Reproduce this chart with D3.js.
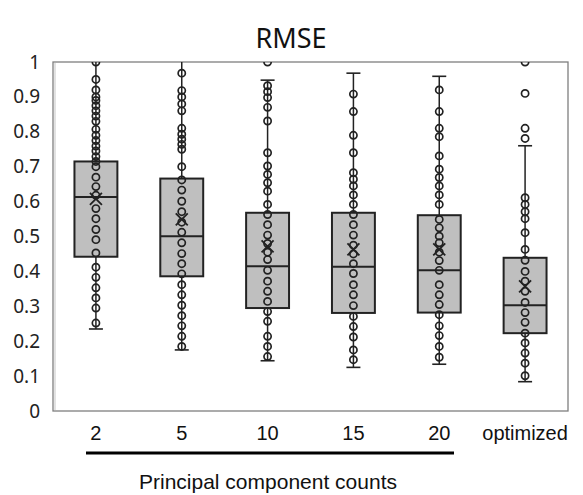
<!DOCTYPE html>
<html><head><meta charset="utf-8">
<script src="https://cdn.jsdelivr.net/npm/d3@7"></script>
<style>body{margin:0;background:#fff}svg{display:block}</style>
</head><body><svg id="c" width="583" height="495"></svg>
<script>
const categories = ["2", "5", "10", "15", "20", "optimized"];
const yTicks = [0, 0.1, 0.2, 0.3, 0.4, 0.5, 0.6, 0.7, 0.8, 0.9, 1];
const q1 = [0.442, 0.386, 0.295, 0.281, 0.282, 0.223];
const median = [0.613, 0.501, 0.415, 0.413, 0.403, 0.303];
const q3 = [0.715, 0.666, 0.568, 0.568, 0.561, 0.439];
const mean = [0.608, 0.549, 0.472, 0.463, 0.463, 0.357];
const whiskerLow = [0.235, 0.175, 0.144, 0.125, 0.134, 0.084];
const whiskerHigh = [1.03, 1.03, 0.948, 0.968, 0.959, 0.760];
const points2 = [1.0, 0.95, 0.92, 0.90, 0.89, 0.875, 0.86, 0.845, 0.83, 0.807, 0.79, 0.775, 0.759, 0.745, 0.729, 0.715, 0.70, 0.67, 0.643, 0.618, 0.58, 0.551, 0.52, 0.491, 0.453, 0.412, 0.383, 0.353, 0.324, 0.295, 0.252];
const points5 = [0.968, 0.918, 0.90, 0.88, 0.86, 0.81, 0.793, 0.779, 0.764, 0.75, 0.70, 0.662, 0.633, 0.601, 0.571, 0.541, 0.512, 0.482, 0.451, 0.422, 0.393, 0.362, 0.333, 0.303, 0.273, 0.244, 0.214, 0.185];
const points10 = [1.0, 0.932, 0.915, 0.898, 0.87, 0.831, 0.74, 0.702, 0.678, 0.654, 0.63, 0.592, 0.563, 0.534, 0.504, 0.48, 0.455, 0.434, 0.403, 0.372, 0.343, 0.314, 0.285, 0.257, 0.214, 0.185, 0.156];
const points15 = [0.908, 0.858, 0.79, 0.74, 0.683, 0.664, 0.645, 0.619, 0.592, 0.563, 0.534, 0.504, 0.475, 0.45, 0.422, 0.394, 0.362, 0.333, 0.302, 0.271, 0.242, 0.212, 0.175, 0.147];
const points20 = [0.92, 0.858, 0.81, 0.786, 0.731, 0.693, 0.669, 0.645, 0.619, 0.592, 0.549, 0.525, 0.501, 0.482, 0.455, 0.431, 0.403, 0.362, 0.333, 0.305, 0.276, 0.244, 0.216, 0.185, 0.154];
const pointsOpt = [1.0, 0.91, 0.81, 0.781, 0.611, 0.592, 0.571, 0.551, 0.511, 0.463, 0.432, 0.40, 0.372, 0.343, 0.311, 0.282, 0.254, 0.223, 0.195, 0.166, 0.137, 0.101];
const allPoints = [points2, points5, points10, points15, points20, pointsOpt];
const title = "RMSE";
const xTitle = "Principal component counts";

const svg = d3.select("#c");
const L = 53, R = 568, T = 62, B = 411;
const x = d3.scaleBand().domain(categories).range([L, R]).padding(0);
const y = d3.scaleLinear().domain([0, 1]).range([B, T]);
const bw = x.bandwidth() * 0.5;

svg.append("defs").append("clipPath").attr("id", "pc")
  .append("rect").attr("x", L).attr("y", T).attr("width", R - L).attr("height", B - T);

// frame
svg.append("rect").attr("x", L).attr("y", T).attr("width", R - L).attr("height", B - T)
  .attr("fill", "none").attr("stroke", "#7f7f7f").attr("stroke-width", 1.3);
svg.append("line").attr("x1", L + 2).attr("x2", L + 2).attr("y1", T + 1).attr("y2", B - 1)
  .attr("stroke", "#d9d9d9").attr("stroke-width", 1.5);

// y axis labels
const yAxis = d3.axisLeft(y).tickValues(yTicks).tickSize(0).tickPadding(13).tickFormat(d3.format("~g"));
const gy = svg.append("g").attr("transform", `translate(${L},0)`).call(yAxis);
gy.select(".domain").remove();
gy.selectAll("text").attr("font-family", "'Noto Sans', 'Open Sans', sans-serif").attr("font-size", 19).attr("fill", "#222");

const g = svg.append("g").attr("clip-path", "url(#pc)");
const dark = "#222";

categories.forEach((c, i) => {
  const cx = x(c) + x.bandwidth() / 2;
  // whiskers
  g.append("line").attr("x1", cx).attr("x2", cx).attr("y1", y(q3[i])).attr("y2", y(whiskerHigh[i])).attr("stroke", dark).attr("stroke-width", 1.5);
  g.append("line").attr("x1", cx).attr("x2", cx).attr("y1", y(q1[i])).attr("y2", y(whiskerLow[i])).attr("stroke", dark).attr("stroke-width", 1.5);
  [whiskerHigh[i], whiskerLow[i]].forEach(v => {
    g.append("line").attr("x1", cx - 7).attr("x2", cx + 7).attr("y1", y(v)).attr("y2", y(v)).attr("stroke", dark).attr("stroke-width", 1.6);
  });
  // box
  g.append("rect").attr("x", cx - bw / 2).attr("y", y(q3[i])).attr("width", bw).attr("height", y(q1[i]) - y(q3[i]))
    .attr("fill", "#bfbfbf").attr("stroke", dark).attr("stroke-width", 2);
  g.append("line").attr("x1", cx - bw / 2).attr("x2", cx + bw / 2).attr("y1", y(median[i])).attr("y2", y(median[i]))
    .attr("stroke", dark).attr("stroke-width", 2);
  // points
  g.selectAll(null).data(allPoints[i]).join("circle")
    .attr("cx", cx).attr("cy", d => y(d)).attr("r", 3.6)
    .attr("fill", "none").attr("stroke", dark).attr("stroke-width", 1.7);
  // mean X
  const my = y(mean[i]), s = 6;
  g.append("path").attr("d", `M${cx - s},${my - s}L${cx + s},${my + s}M${cx - s},${my + s}L${cx + s},${my - s}`)
    .attr("stroke", dark).attr("stroke-width", 1.8).attr("fill", "none");
});

// x labels
svg.selectAll(".xl").data(categories).join("text")
  .attr("x", d => x(d) + x.bandwidth() / 2).attr("y", 440)
  .attr("text-anchor", "middle").attr("font-family", "'Liberation Sans', Arial, sans-serif")
  .attr("font-size", 20).attr("fill", "#111").text(d => d);

// underline and axis title
svg.append("line").attr("x1", 86).attr("x2", 454).attr("y1", 453).attr("y2", 453).attr("stroke", "#000").attr("stroke-width", 3);
svg.append("text").attr("x", 268).attr("y", 489).attr("text-anchor", "middle")
  .attr("font-family", "'Liberation Sans', Arial, sans-serif").attr("font-size", 21).attr("fill", "#111").text(xTitle);

svg.append("text").attr("x", 291).attr("y", 48).attr("text-anchor", "middle")
  .attr("font-family", "'Noto Sans', 'Open Sans', sans-serif").attr("font-size", 27).attr("fill", "#111").text(title);
</script>
</body></html>
